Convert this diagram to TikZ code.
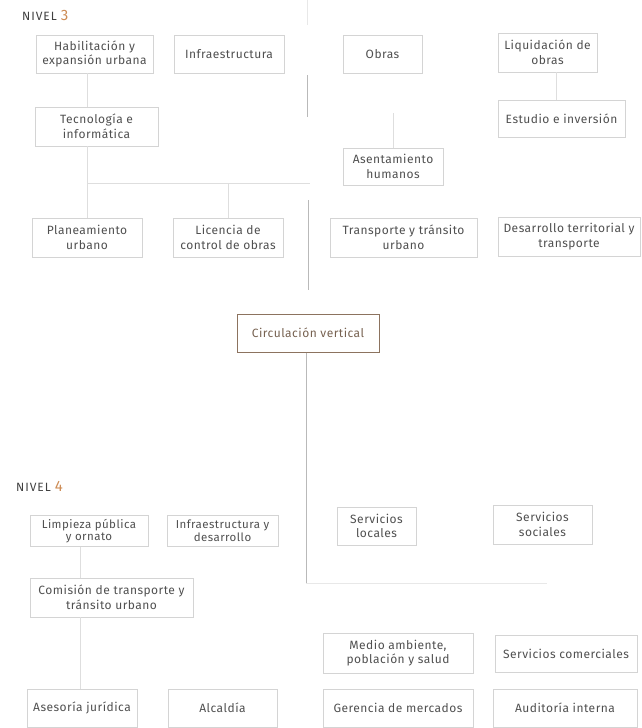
\documentclass[tikz,border=0pt]{standalone}
\usepackage{fontspec}
\setmainfont{Fira Sans}[LetterSpace=4.0]
\usetikzlibrary{positioning, calc}
\definecolor{bordecaja}{RGB}{212,212,212}
\definecolor{lineagris}{RGB}{222,222,222}
\definecolor{ejegris}{RGB}{185,185,185}
\definecolor{textocaja}{RGB}{80,80,80}
\definecolor{nivelnum}{RGB}{205,140,85}
\definecolor{cafe}{RGB}{140,115,95}
\tikzset{
  caja/.style={rectangle, draw=bordecaja, line width=0.8pt, fill=white, align=center, text=textocaja, inner sep=2pt, font=\fontsize{12}{14.5}\selectfont},
  cajabaja/.style={caja, font=\fontsize{11.5}{12.5}\selectfont},
  cajacafe/.style={caja, draw=cafe, line width=1pt, text=cafe!85!black},
  nivel/.style={anchor=base west, inner sep=0pt, text=black!75, font=\fontsize{12}{13}\selectfont\addfontfeatures{LetterSpace=8.0}},
  conector/.style={draw=lineagris, line width=0.8pt},
  eje/.style={draw=ejegris, line width=0.9pt}
}
\newcommand{\numnivel}[1]{\textcolor{nivelnum}{\fontsize{15}{15}\selectfont #1}}

\begin{document}
\begin{tikzpicture}[x=1pt, y=1pt]
    \useasboundingbox (0,0) rectangle (641,-728);

    % 1. Nivel 3
    \node[nivel] (niv3) at (22,-20) {NIVEL\hspace{4pt}\numnivel{3}};

    \node[caja, minimum width=117, minimum height=38] (hab) at (94.5,-54) {Habilitación y\\expansión urbana};
    \node[caja, minimum width=110, minimum height=38] (infra) at (229,-54) {Infraestructura};
    \node[caja, minimum width=79, minimum height=38] (obras) at (382.5,-54) {Obras};
    \node[caja, minimum width=99, minimum height=39] (liq) at (547.5,-52.5) {Liquidación de\\obras};
    \node[caja, minimum width=123, minimum height=39] (tec) at (96.5,-126.5) {Tecnología e\\informática};
    \node[caja, minimum width=127, minimum height=37] (est) at (561.5,-118.5) {Estudio e inversión};
    \node[caja, minimum width=100, minimum height=37] (asen) at (393,-166.5) {Asentamiento\\humanos};
    \node[caja, minimum width=110, minimum height=39] (plan) at (87,-237.5) {Planeamiento\\urbano};
    \node[caja, minimum width=110, minimum height=39] (lic) at (228,-237.5) {Licencia de\\control de obras};
    \node[caja, minimum width=147, minimum height=39] (trans) at (403.5,-237.5) {Transporte y tránsito\\urbano};
    \node[caja, minimum width=142, minimum height=39] (des) at (569,-236.5) {Desarrollo territorial y\\transporte};

    % conexiones nivel 3
    \coordinate (bus3) at (310,-183);
    \coordinate (ramaliq) at (556,0);
    \coordinate (ramaasen) at (393,-113);
    \draw[conector] (hab.south -| plan.north) -- (tec.north -| plan.north);
    \draw[conector] (tec.south -| plan.north) -- (plan.north);
    \draw[conector] (plan.north |- bus3) -- (bus3);
    \draw[conector] (lic.north |- bus3) -- (lic.north);
    \draw[conector] (liq.south -| ramaliq) -- (est.north -| ramaliq);
    \draw[conector] (ramaasen) -- (asen.north);

    % eje central (tramos)
    \coordinate (ejeA) at (307,0);
    \coordinate (ejeB) at (307,-25);
    \coordinate (ejeC) at (307,-75);
    \coordinate (ejeD) at (307,-117);
    \coordinate (ejeE) at (308,-200);
    \coordinate (ejeF) at (308,-290);
    \draw[conector, draw=lineagris!70] (ejeA) -- (ejeB);
    \draw[eje] (ejeC) -- (ejeD);
    \draw[eje] (ejeE) -- (ejeF);

    % 2. Circulación vertical
    \node[cajacafe, minimum width=142, minimum height=38] (circ) at (308,-333) {Circulación vertical};
    \coordinate (base4) at (306,-583);
    \coordinate (finbase4) at (547,-583);
    \draw[eje] (circ.south -| base4) -- (base4);
    \draw[conector, draw=lineagris!70] (base4) -- (finbase4);

    % 3. Nivel 4
    \node[nivel] (niv4) at (16,-491) {NIVEL\hspace{4pt}\numnivel{4}};

    \node[cajabaja, minimum width=118, minimum height=31] (limp) at (89,-531) {Limpieza pública\\y ornato};
    \node[cajabaja, minimum width=111, minimum height=31] (infd) at (222.5,-530.5) {Infraestructura y\\desarrollo};
    \node[caja, minimum width=79, minimum height=38] (serl) at (376.5,-526) {Servicios\\locales};
    \node[caja, minimum width=99, minimum height=39] (sers) at (542.5,-524.5) {Servicios\\sociales};
    \node[caja, minimum width=163, minimum height=39] (com) at (111.5,-597.5) {Comisión de transporte y\\tránsito urbano};
    \node[caja, minimum width=150, minimum height=40] (med) at (398,-653) {Medio ambiente,\\población y salud};
    \node[caja, minimum width=142, minimum height=37] (serc) at (566,-653.5) {Servicios comerciales};
    \node[caja, minimum width=110, minimum height=38] (ases) at (82,-708) {Asesoría jurídica};
    \node[caja, minimum width=109, minimum height=38] (alc) at (222.5,-708) {Alcaldía};
    \node[caja, minimum width=150, minimum height=38] (ger) at (398,-708) {Gerencia de mercados};
    \node[caja, minimum width=144, minimum height=38] (aud) at (565,-708) {Auditoría interna};

    % conexiones nivel 4
    \coordinate (rama4) at (80,0);
    \draw[conector] (limp.south -| rama4) -- (com.north -| rama4);
    \draw[conector] (com.south -| rama4) -- (ases.north -| rama4);

\end{tikzpicture}
\end{document}
